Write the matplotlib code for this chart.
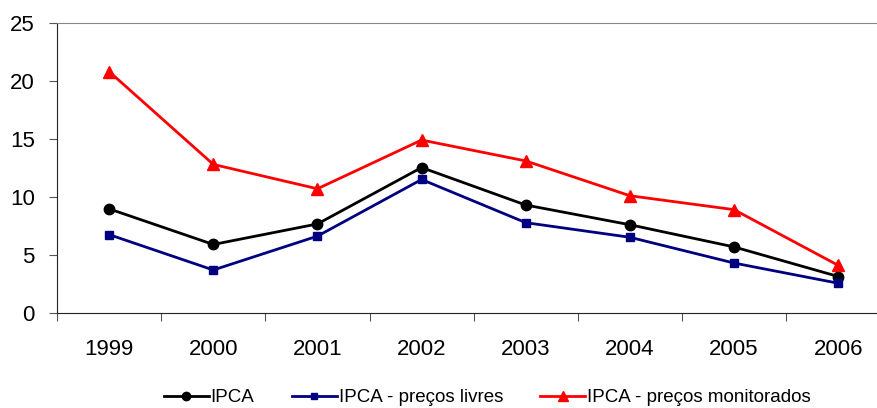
import matplotlib.pyplot as plt

plt.rcParams['font.family'] = ['Liberation Sans', 'DejaVu Sans']

years = ["1999", "2000", "2001", "2002", "2003", "2004", "2005", "2006"]
ipca = [8.97, 5.9, 7.67, 12.53, 9.3, 7.6, 5.69, 3.14]
livres = [6.75, 3.7, 6.62, 11.5, 7.78, 6.52, 4.3, 2.56]
monitorados = [20.8, 12.8, 10.7, 14.9, 13.1, 10.1, 8.9, 4.1]

fig = plt.figure(figsize=(8.78, 4.08), dpi=100)
ax = fig.add_axes([0.065, 0.233, 0.949, 0.711])

x = range(len(years))
ax.plot(x, ipca, color="black", marker="o", markersize=7.5, linewidth=2, label="IPCA")
ax.plot(x, livres, color="#000080", marker="s", markersize=5.5, linewidth=2,
        label="IPCA - preços livres")
ax.plot(x, monitorados, color="#ff0000", marker="^", markersize=8.5, linewidth=2,
        label="IPCA - preços monitorados")

ax.set_xlim(-0.5, 7.5)
ax.set_ylim(0, 25)
ax.set_yticks([0, 5, 10, 15, 20, 25])
# category boundaries carry the ticks, labels sit at the centres
ax.set_xticks([i + 0.5 for i in range(-1, 8)])
ax.set_xticklabels([])
ax.set_xticks(list(x), minor=True)
ax.set_xticklabels(years, minor=True)
ax.tick_params(axis="x", which="major", direction="out", length=6, color="#555555")
ax.tick_params(axis="x", which="minor", length=0, labelsize=16, pad=19)
ax.tick_params(axis="y", direction="out", length=6, labelsize=16, pad=10, color="#555555")

ax.spines["right"].set_visible(False)
ax.spines["top"].set_color("#888888")
ax.spines["left"].set_color("#222222")
ax.spines["bottom"].set_color("#222222")

leg = fig.legend(loc="center", bbox_to_anchor=(0.555, 0.025), ncol=3, frameon=False,
                 fontsize=13.5, handlelength=2.4, columnspacing=2.0, handletextpad=0.1,
                 markerscale=0.8)

fig.savefig("out.png", dpi=100)
